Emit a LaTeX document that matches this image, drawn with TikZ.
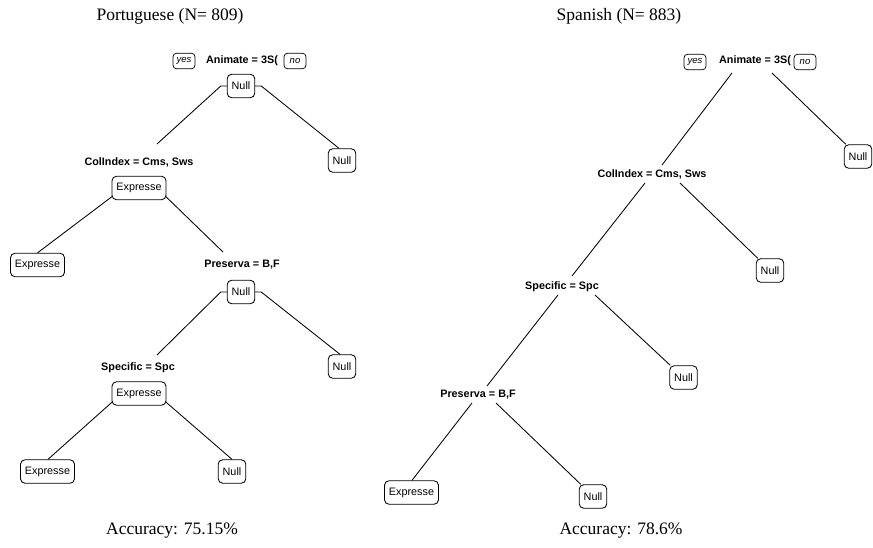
\documentclass[tikz,border=0pt]{standalone}
\usepackage{fontspec}
\setmainfont{Liberation Serif}
\setsansfont{Liberation Sans}
\usetikzlibrary{calc}
\begin{document}
\begin{tikzpicture}[x=1pt,y=-1pt,
  leafbox/.style={draw,rounded corners=4.5pt,line width=0.85pt,inner xsep=4.5pt,inner ysep=0pt,minimum height=23.5pt,font=\sffamily\fontsize{10.8}{12}\selectfont},
  ynbox/.style={draw,rounded corners=3.5pt,line width=0.75pt,inner xsep=3.5pt,inner ysep=0pt,minimum height=15.5pt,minimum width=22pt,font=\sffamily\itshape\fontsize{9.5}{11}\selectfont},
  splitlab/.style={inner sep=0pt,font=\sffamily\bfseries\fontsize{10.8}{12}\selectfont},
  title/.style={inner sep=0pt,font=\rmfamily\fontsize{17.5}{20}\selectfont},
  edge/.style={line width=0.85pt}]
\useasboundingbox (0,0) rectangle (873,547);

% ---------------- Left tree (Portuguese) ----------------
\node[title] (titleL) at (170,16) {Portuguese (N= 809)};
\node[ynbox] (yesL) at (184,61) {yes};
\node[splitlab] (animL) at (242,61) {Animate = 3S(};
\node[ynbox] (noL) at (295,61) {no};
\node[leafbox] (rootL) at (241,86) {Null};
\node[leafbox] (nullL1) at (342,160.5) {Null};
\node[splitlab] (colL) at (139,162) {ColIndex = Cms, Sws};
\node[leafbox] (expL1) at (139,188) {Expresse};
\node[leafbox] (expL2) at (37.5,265) {Expresse};
\node[splitlab] (presL) at (242,265) {Preserva = B,F};
\node[leafbox] (nullL2) at (241,292) {Null};
\node[leafbox] (nullL3) at (342,366.5) {Null};
\node[splitlab] (specL) at (138,368) {Specific = Spc};
\node[leafbox] (expL3) at (139,393.5) {Expresse};
\node[leafbox] (expL4) at (47.5,471.5) {Expresse};
\node[leafbox] (nullL4) at (232,471.5) {Null};
\node[title] (accL) at (172,531) {Accuracy: 75.15\%};

\coordinate (cL1) at (157,144);
\coordinate (cL2) at (223,252);
\coordinate (cL3) at (157,355);

\draw[edge] (rootL.west) -- ++(-6,0) -- (cL1);
\draw[edge] (rootL.east) -- ++(6,0) -- (nullL1.north west -| 339,0);
\draw[edge] (expL1.south west) ++(1,-4) -- (expL2.north);
\draw[edge] (expL1.south east) ++(-1,-4) -- (cL2);
\draw[edge] (nullL2.west) -- ++(-6,0) -- (cL3);
\draw[edge] (nullL2.east) -- ++(6,0) -- ($(nullL3.north)+(-2,0)$);
\draw[edge] (expL3.south west) ++(1,-4) -- ($(expL4.north)+(0.5,0)$);
\draw[edge] (expL3.south east) ++(-1,-4) -- (nullL4.north);

% ---------------- Right tree (Spanish) ----------------
\node[title] (titleR) at (619,16) {Spanish (N= 883)};
\node[ynbox] (yesR) at (695,62) {yes};
\node[splitlab] (animR) at (755,61) {Animate = 3S(};
\node[ynbox] (noR) at (805,62) {no};
\node[leafbox] (nullR1) at (858,156.5) {Null};
\node[splitlab] (colR) at (652,174) {ColIndex = Cms, Sws};
\node[leafbox] (nullR2) at (770,270.5) {Null};
\node[splitlab] (specR) at (562,287) {Specific = Spc};
\node[leafbox] (nullR3) at (683.5,377.5) {Null};
\node[splitlab] (presR) at (478,395) {Preserva = B,F};
\node[leafbox] (expR) at (411.5,492.5) {Expresse};
\node[leafbox] (nullR4) at (593,496.5) {Null};
\node[title] (accR) at (621,531) {Accuracy: 78.6\%};

\coordinate (aR1) at (732,73);
\coordinate (aR2) at (772,73);
\coordinate (cR1) at (662,165);
\coordinate (cR2) at (645,183);
\coordinate (cR3) at (680,183);
\coordinate (sR0) at (572,276);
\coordinate (sR1) at (558,295);
\coordinate (sR2) at (595,295);
\coordinate (pR0) at (487,386);
\coordinate (pR1) at (472,403);
\coordinate (pR2) at (496,403);

\draw[edge] (aR1) -- (cR1);
\draw[edge] (aR2) -- ($(nullR1.north west)+(2,0)$);
\draw[edge] (cR2) -- (sR0);
\draw[edge] (cR3) -- ($(nullR2.north west)+(2,0)$);
\draw[edge] (sR1) -- (pR0);
\draw[edge] (sR2) -- ($(nullR3.north west)+(1,0)$);
\draw[edge] (pR1) -- ($(expR.north)+(0.5,0)$);
\draw[edge] (pR2) -- ($(nullR4.north west)+(2,0)$);
\end{tikzpicture}
\end{document}
